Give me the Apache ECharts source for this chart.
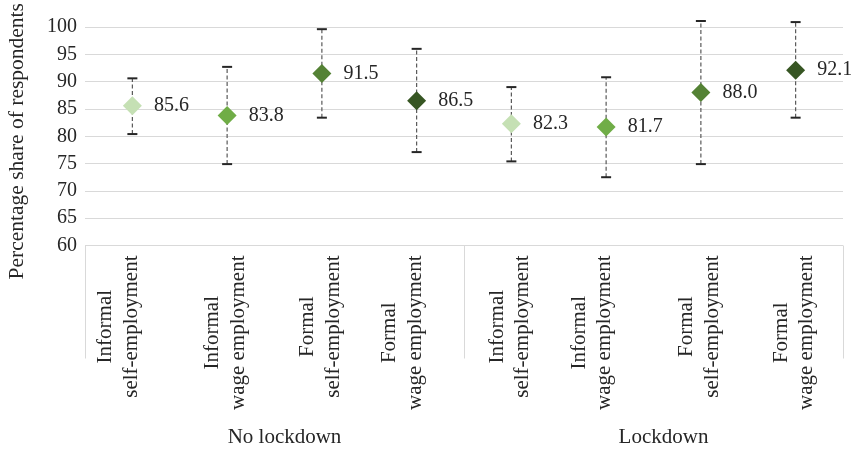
<!DOCTYPE html>
<html>
<head>
<meta charset="utf-8">
<script src="https://cdn.jsdelivr.net/npm/echarts@6/dist/echarts.min.js"></script>
<style>
  html, body { margin: 0; padding: 0; background: #ffffff; }
  #chart { width: 851px; height: 452px; }
</style>
</head>
<body>
<div id="chart"></div>
<script>
// Employment categories (two-line labels) and the lockdown groups they belong to
const categories = [
  'Informal\nself-employment', 'Informal\nwage employment',
  'Formal\nself-employment', 'Formal\nwage employment',
  'Informal\nself-employment', 'Informal\nwage employment',
  'Formal\nself-employment', 'Formal\nwage employment'
];
const groups = ['No lockdown', 'Lockdown'];

// Point estimates and confidence interval bounds (percent)
const shares = [85.6, 83.8, 91.5, 86.5, 82.3, 81.7, 88.0, 92.1];
const upper  = [90.6, 92.7, 99.6, 96.0, 89.0, 90.8, 101.1, 100.9];
const lower  = [80.4, 74.9, 83.4, 77.1, 75.4, 72.5, 74.9, 83.4];

// Y-axis range
const yMin = 60, yMax = 100, yStep = 5;

// Marker colour for each employment type
const typeColors = ['#c5e0b4', '#70ad47', '#548235', '#375623'];
// Label blocks that sit a little further left under their tick
const labelLift = [true, false, false, true, false, true, false, false];

const FONT = "'Liberation Serif', 'Times New Roman', serif";
const TEXT = '#262626';
const GRID = '#d9d9d9';

const chart = echarts.init(document.getElementById('chart'), null, { renderer: 'canvas' });

const option = {
  animation: false,
  backgroundColor: '#ffffff',
  grid: { left: 85, right: 8, top: 27, bottom: 206.5, outerBoundsMode: 'none', containLabel: false },
  xAxis: [
    {
      type: 'category',
      data: categories,
      axisLine: { show: false },
      axisTick: { show: false },
      axisLabel: {
        interval: 0,
        rotate: 90,
        margin: 10,
        formatter: function (value, idx) {
          const lines = value.split('\n').map(s => '{c|' + s + '}');
          return lines.join('\n') + '\n' + (labelLift[idx] ? '{sb| }' : '{sa| }');
        },
        rich: {
          c: { fontFamily: FONT, fontSize: 21, lineHeight: 25.6, color: TEXT, align: 'center' },
          sa: { fontSize: 1, lineHeight: 3 },
          sb: { fontSize: 1, lineHeight: 28 }
        }
      },
      splitLine: { show: false }
    },
    {
      type: 'category',
      data: groups,
      position: 'bottom',
      offset: 0,
      axisLine: { show: false },
      axisTick: { show: true, length: 113, lineStyle: { color: GRID, width: 1 } },
      axisLabel: {
        interval: 0,
        margin: 181,
        fontFamily: FONT,
        fontSize: 21,
        color: TEXT,
        padding: [0, 0, 0, 20]
      },
      splitLine: { show: false }
    }
  ],
  yAxis: {
    type: 'value',
    min: yMin,
    max: yMax,
    interval: yStep,
    name: 'Percentage share of respondents',
    nameLocation: 'middle',
    nameGap: 57,
    nameTextStyle: { fontFamily: FONT, fontSize: 21.5, color: TEXT, padding: [0, 10, 0, 0] },
    axisLine: { show: false },
    axisTick: { show: false },
    axisLabel: { fontFamily: FONT, fontSize: 20, color: TEXT, margin: 8 },
    splitLine: { lineStyle: { color: GRID, width: 1 } }
  },
  series: [
    {
      // confidence interval whiskers: dashed stem with solid caps
      type: 'custom',
      xAxisIndex: 0,
      clip: false,
      z: 2,
      data: categories.map((c, i) => [i, lower[i], upper[i]]),
      renderItem: function (params, api) {
        const x = api.value(0);
        const lo = api.coord([x, api.value(1)]);
        const hi = api.coord([x, api.value(2)]);
        const half = 5;
        return {
          type: 'group',
          children: [
            {
              type: 'line',
              shape: { x1: lo[0], y1: lo[1], x2: hi[0], y2: hi[1] },
              style: { stroke: '#595959', lineWidth: 1.2, lineDash: [4, 2.5] }
            },
            {
              type: 'line',
              shape: { x1: hi[0] - half, y1: hi[1], x2: hi[0] + half, y2: hi[1] },
              style: { stroke: '#262626', lineWidth: 2 }
            },
            {
              type: 'line',
              shape: { x1: lo[0] - half, y1: lo[1], x2: lo[0] + half, y2: lo[1] },
              style: { stroke: '#262626', lineWidth: 2 }
            }
          ]
        };
      }
    },
    {
      type: 'scatter',
      xAxisIndex: 0,
      z: 3,
      symbol: 'diamond',
      symbolSize: 19,
      itemStyle: { opacity: 1 },
      data: shares.map((v, i) => ({
        value: [i, v],
        itemStyle: { color: typeColors[i % typeColors.length], opacity: 1 }
      })),
      label: {
        show: true,
        position: 'right',
        distance: 12,
        fontFamily: FONT,
        fontSize: 20,
        color: TEXT,
        formatter: p => p.value[1].toFixed(1)
      },
      emphasis: { disabled: true }
    }
  ]
};

chart.setOption(option);
</script>
</body>
</html>
